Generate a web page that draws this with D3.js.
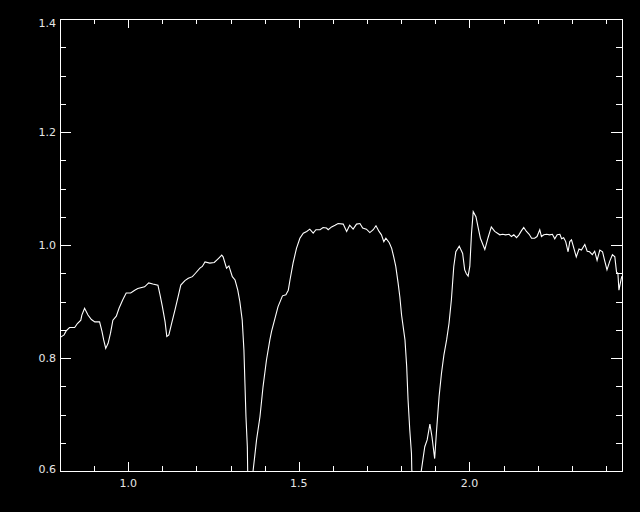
<!DOCTYPE html>
<html>
<head>
<meta charset="utf-8">
<script src="https://cdn.jsdelivr.net/npm/d3@7"></script>
<style>
  body { margin: 0; background: #000; }
  svg { display: block; }
</style>
</head>
<body>
<div class="chart"></div>
<script>
// Spectrum plot (wavelength vs normalised flux), IDL style

// Data
let wave = [0.802, 0.812, 0.818, 0.828, 0.843, 0.851, 0.861, 0.864, 0.872, 0.882,
  0.892, 0.902, 0.916, 0.923, 0.928, 0.934, 0.941, 0.948, 0.955, 0.965,
  0.973, 0.984, 0.994, 1.007, 1.019, 1.028, 1.048, 1.060, 1.072, 1.087,
  1.093, 1.100, 1.108, 1.113, 1.119, 1.127, 1.137, 1.146, 1.154, 1.166,
  1.176, 1.188, 1.197, 1.210, 1.217, 1.225, 1.239, 1.252, 1.264, 1.274,
  1.278, 1.288, 1.295, 1.305, 1.313, 1.321, 1.327, 1.334, 1.339, 1.342,
  1.345, 1.349, 1.350, 1.358, 1.366, 1.376, 1.386, 1.395, 1.405, 1.415,
  1.420, 1.430, 1.439, 1.452, 1.462, 1.469, 1.474, 1.483, 1.493, 1.503,
  1.513, 1.523, 1.532, 1.542, 1.550, 1.562, 1.571, 1.581, 1.586, 1.596,
  1.606, 1.615, 1.630, 1.640, 1.649, 1.659, 1.669, 1.679, 1.687, 1.698,
  1.708, 1.718, 1.726, 1.735, 1.742, 1.749, 1.755, 1.765, 1.772, 1.778,
  1.784, 1.791, 1.796, 1.801, 1.811, 1.816, 1.820, 1.825, 1.830, 1.831,
  1.845, 1.859, 1.869, 1.876, 1.884, 1.890, 1.898, 1.903, 1.911, 1.918,
  1.925, 1.933, 1.940, 1.947, 1.954, 1.960, 1.970, 1.980, 1.986, 1.991,
  1.996, 2.001, 2.006, 2.011, 2.019, 2.025, 2.032, 2.045, 2.054, 2.064,
  2.074, 2.089, 2.097, 2.106, 2.116, 2.123, 2.130, 2.138, 2.145, 2.152,
  2.159, 2.167, 2.175, 2.182, 2.191, 2.198, 2.206, 2.211, 2.218, 2.226,
  2.235, 2.243, 2.250, 2.257, 2.265, 2.270, 2.276, 2.282, 2.289, 2.294,
  2.299, 2.306, 2.313, 2.321, 2.328, 2.338, 2.345, 2.352, 2.360, 2.367,
  2.374, 2.382, 2.390, 2.396, 2.403, 2.411, 2.419, 2.426, 2.431, 2.435,
  2.438, 2.442, 2.445, 2.447];
let flux = [0.837, 0.841, 0.848, 0.854, 0.854, 0.861, 0.867, 0.876, 0.888, 0.876,
  0.868, 0.864, 0.864, 0.847, 0.832, 0.817, 0.826, 0.844, 0.867, 0.874,
  0.888, 0.903, 0.915, 0.915, 0.920, 0.923, 0.926, 0.933, 0.931, 0.929,
  0.912, 0.891, 0.864, 0.838, 0.841, 0.861, 0.885, 0.908, 0.929, 0.937,
  0.941, 0.944, 0.950, 0.959, 0.962, 0.970, 0.968, 0.969, 0.976, 0.982,
  0.979, 0.959, 0.963, 0.944, 0.938, 0.920, 0.900, 0.867, 0.814, 0.755,
  0.696, 0.643, 0.601, 0.500, 0.601, 0.655, 0.696, 0.749, 0.796, 0.832,
  0.847, 0.870, 0.891, 0.910, 0.912, 0.920, 0.938, 0.968, 0.994, 1.012,
  1.021, 1.024, 1.028, 1.021, 1.027, 1.027, 1.031, 1.030, 1.027, 1.032,
  1.035, 1.038, 1.037, 1.024, 1.035, 1.028, 1.037, 1.038, 1.030, 1.028,
  1.022, 1.027, 1.034, 1.024, 1.018, 1.006, 1.012, 1.004, 0.994, 0.979,
  0.962, 0.932, 0.908, 0.876, 0.832, 0.785, 0.726, 0.673, 0.631, 0.601,
  0.550, 0.601, 0.643, 0.655, 0.683, 0.661, 0.622, 0.667, 0.732, 0.773,
  0.805, 0.832, 0.861, 0.903, 0.962, 0.988, 0.998, 0.985, 0.956, 0.949,
  0.945, 0.962, 1.021, 1.059, 1.050, 1.032, 1.012, 0.992, 1.012, 1.032,
  1.024, 1.018, 1.019, 1.018, 1.019, 1.015, 1.018, 1.013, 1.018, 1.025,
  1.031, 1.024, 1.019, 1.012, 1.012, 1.015, 1.027, 1.015, 1.018, 1.019,
  1.018, 1.019, 1.011, 1.018, 1.019, 1.011, 1.013, 1.006, 0.988, 1.006,
  1.009, 0.994, 0.979, 0.993, 0.991, 1.001, 0.989, 0.988, 0.983, 0.989,
  0.973, 0.991, 0.988, 0.973, 0.956, 0.971, 0.983, 0.979, 0.952, 0.950,
  0.920, 0.932, 0.941, 0.945];

let xMajor = [1.0, 1.5, 2.0];
let yMajor = [0.6, 0.8, 1.0, 1.2, 1.4];
let xMinor = d3.range(8, 25).map(d => d / 10);
let yMinor = d3.range(12, 29).map(d => d / 20);

// Frame
let W = 640, H = 512;
let margin = {top: 19, right: 18, bottom: 41, left: 60};
let width = W - margin.left - margin.right;
let height = H - margin.top - margin.bottom;

let xScale = d3.scaleLinear().domain([0.8, 2.447]).range([0, width]);
let yScale = d3.scaleLinear().domain([0.6, 1.4]).range([height, 0]);

let svg = d3.select('.chart')
  .append('svg')
  .attr('width', W)
  .attr('height', H)
  .style('background', '#000')
  .append('g')
  .attr('transform', 'translate(' + margin.left + ',' + margin.top + ')');

// IDL tick lengths: 2% of the plot size, minors half
let xLen = 0.02 * height, yLen = 0.02 * width;

// ticks on all four sides (inward)
function ticks(axis, vals, len) {
  return axis.tickValues(vals).tickSize(len).tickSizeOuter(0).tickFormat('');
}
let gBot = svg.append('g').attr('transform', 'translate(0,' + height + ')');
gBot.append('g').call(ticks(d3.axisTop(xScale), xMinor, xLen / 2));
gBot.append('g').call(ticks(d3.axisTop(xScale), xMajor, xLen));
let gTop = svg.append('g');
gTop.append('g').call(ticks(d3.axisBottom(xScale), xMinor, xLen / 2));
gTop.append('g').call(ticks(d3.axisBottom(xScale), xMajor, xLen));
let gLeft = svg.append('g');
gLeft.append('g').call(ticks(d3.axisRight(yScale), yMinor, yLen / 2));
gLeft.append('g').call(ticks(d3.axisRight(yScale), yMajor, yLen));
let gRight = svg.append('g').attr('transform', 'translate(' + width + ',0)');
gRight.append('g').call(ticks(d3.axisLeft(yScale), yMinor, yLen / 2));
gRight.append('g').call(ticks(d3.axisLeft(yScale), yMajor, yLen));

svg.selectAll('.domain').remove();
svg.selectAll('.tick line')
  .attr('stroke', '#fff')
  .attr('shape-rendering', 'crispEdges');

// box
svg.append('rect')
  .attr('width', width)
  .attr('height', height)
  .attr('fill', 'none')
  .attr('stroke', '#fff')
  .attr('shape-rendering', 'crispEdges');

// tick labels
svg.selectAll('.xlab')
  .data(xMajor)
  .enter().append('text')
  .attr('class', 'xlab')
  .attr('x', d => xScale(d))
  .attr('y', height + 16)
  .attr('text-anchor', 'middle')
  .text(d => d3.format('.1f')(d));

svg.selectAll('.ylab')
  .data(yMajor)
  .enter().append('text')
  .attr('class', 'ylab')
  .attr('x', -4)
  .attr('y', d => yScale(d) + (d == 1.4 ? 8 : d == 0.6 ? 2 : 4))
  .attr('text-anchor', 'end')
  .text(d => d3.format('.1f')(d));

svg.selectAll('.xlab, .ylab')
  .attr('fill', '#e6e6e6')
  .style('font-family', 'DejaVu Sans, sans-serif')
  .style('font-size', '11px');

// spectrum, clipped to the plot box
svg.append('clipPath')
  .attr('id', 'clip')
  .append('rect')
  .attr('width', width)
  .attr('height', height);

let line = d3.line()
  .x((d, i) => xScale(wave[i]))
  .y(d => yScale(d));

svg.append('path')
  .datum(flux)
  .attr('clip-path', 'url(#clip)')
  .attr('d', line)
  .attr('fill', 'none')
  .attr('stroke', '#fff')
  .attr('stroke-width', 1.1);
</script>
</body>
</html>
